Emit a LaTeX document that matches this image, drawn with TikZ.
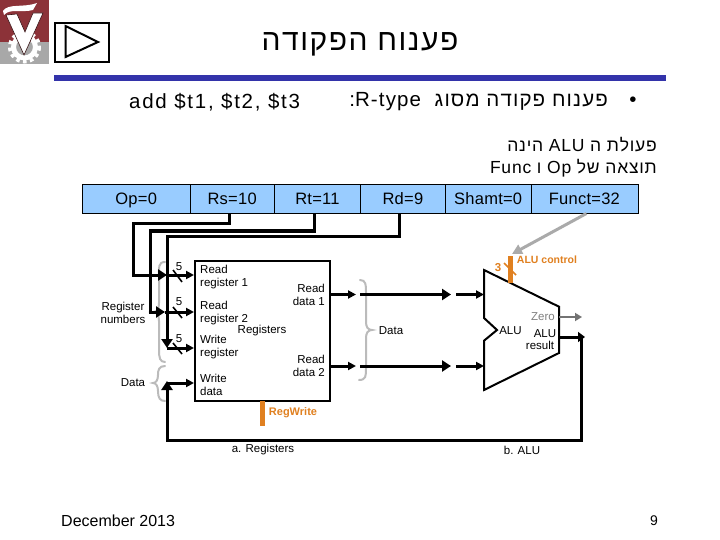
\documentclass[tikz,border=0pt]{standalone}
\usepackage{fontspec}
\setmainfont{Liberation Sans}
\usetikzlibrary{arrows.meta}
\TeXXeTstate=1
\definecolor{cellblue}{HTML}{99CCFF}
\definecolor{barblue}{HTML}{3333AA}
\definecolor{ctrl}{HTML}{E08020}
\definecolor{brc}{HTML}{BBBBBB}
\definecolor{arrowgray}{HTML}{AAAAAA}
\definecolor{logored}{HTML}{8C3238}
\definecolor{logogray}{HTML}{A8A8A8}
\newfontfamily\titlefont[LetterSpace=5]{Liberation Sans}
\newfontfamily\headfont[LetterSpace=8.5]{Liberation Sans}
\newfontfamily\hebfont[LetterSpace=5.5]{Liberation Sans}
\newfontfamily\subfont[LetterSpace=4.5]{Liberation Sans}
\newfontfamily\cellfont[LetterSpace=1.5]{Liberation Sans}
\tikzset{
  cell/.style={draw=black,fill=cellblue,line width=0.8pt,minimum height=28.5pt,inner sep=0pt,text height=12pt,text depth=0pt,font=\fontsize{16.5}{18}\selectfont\cellfont,anchor=south west},
  wire/.style={draw=black,line width=3pt,line join=miter},
  head/.style={-{Triangle[length=8pt,width=8pt]}},
  bighead/.style={-{Triangle[length=9pt,width=11pt]}},
  smalltx/.style={font=\fontsize{11.5}{13}\selectfont,inner sep=0pt,align=left},
  brace/.style={draw=brc,line width=2pt,line cap=round},
  slash/.style={draw=black,line width=1.6pt},
  ctl/.style={draw=ctrl,line width=5pt},
}
\begin{document}
\begin{tikzpicture}[x=1pt,y=-1pt]
\useasboundingbox (0,0) rectangle (720,540);
\fill[white] (0,0) rectangle (720,540);
% logo
\fill[logored] (0,0) rectangle (49,42);
\fill[logogray] (0,42) rectangle (49,64);
\draw[white,line width=4pt,dash pattern=on 3.5pt off 3.4pt] (24.5,47) circle (14.5);
\draw[white,line width=5pt] (24.5,47) circle (11);
\fill[white,draw=black!60!logored,line width=0.6pt] (6,15) -- (24,55) -- (43,13) -- (33,13) -- (25,32) -- (17,14) -- cycle;
\fill[white] (3,11) .. controls (8,3) and (24,8) .. (37,3) -- (33,10) .. controls (22,13) and (10,8) .. (4,15) -- cycle;
% button
\node[draw=black,line width=2pt,minimum width=54pt,minimum height=39pt,inner sep=0pt] (btn) at (81.5,42.5) {};
\draw[black,line width=2pt,line join=miter] (65.5,26) -- (98,42) -- (65.5,57) -- cycle;
% bar
\fill[barblue] (54,75) rectangle (666,81);
% title
\node[inner sep=0pt,font=\fontsize{30}{36}\selectfont\titlefont] (title) at (360,44) {\beginR פענוח הפקודה\endR};
\node[inner sep=0pt,font=\fontsize{20.5}{22}\selectfont\headfont,anchor=west] (add) at (129,102) {add \$t1, \$t2, \$t3};
\node[inner sep=0pt,font=\fontsize{20.5}{22}\selectfont\hebfont,anchor=east] (rtype) at (608,102) {\beginR פענוח פקודה מסוג\ \ \beginL R-type\endL:\endR};
\node[inner sep=0pt,font=\fontsize{20.5}{22}\selectfont] (bullet) at (633,102) {•};
\node[inner sep=0pt,font=\fontsize{17.5}{18}\selectfont\subfont,anchor=east] (l1) at (657,145) {\beginR פעולת ה \beginL ALU\endL{} הינה\endR};
\node[inner sep=0pt,font=\fontsize{17.5}{18}\selectfont\subfont,anchor=east] (l2) at (657,168) {\beginR תוצאה של \beginL Op\endL{} ו \beginL Func\endL\endR};
% table
\node[cell,minimum width=107.5pt] (op) at (82,213.5) {Op=0};
\node[cell,minimum width=84.5pt] (rs) at (189.5,213.5) {Rs=10};
\node[cell,minimum width=86pt] (rt) at (274,213.5) {Rt=11};
\node[cell,minimum width=85pt] (rd) at (360,213.5) {Rd=9};
\node[cell,minimum width=85.5pt] (shamt) at (445,213.5) {Shamt=0};
\node[cell,minimum width=107pt] (funct) at (530.5,213.5) {Funct=32};
% braces
\draw[brace] (165,262) .. controls (158,262) and (159,268) .. (159,275) -- (159,303) .. controls (159,309) and (157,312) .. (153,312) .. controls (157,312) and (159,315) .. (159,321) -- (159,350) .. controls (159,358) and (160,362) .. (165,362);
\draw[brace] (165,366) .. controls (159,366) and (158,370) .. (158,375) .. controls (158,380) and (156,383) .. (153,383) .. controls (156,383) and (158,386) .. (158,391) .. controls (158,398) and (160,401) .. (165,401);
\draw[brace] (360,280) .. controls (366,280) and (366,285) .. (366,292) -- (366,322) .. controls (366,327) and (368,330) .. (372,330) .. controls (368,330) and (366,333) .. (366,338) -- (366,368) .. controls (366,376) and (366,380) .. (359,380);
% register block
\node[draw=black,line width=2pt,fill=white,minimum width=135pt,minimum height=140pt,inner sep=0pt,anchor=north west] (regs) at (194,260) {};
% ALU
\draw[black,line width=2pt,fill=white,line join=miter] (484,270) -- (559,306.7) -- (559,353) -- (484,390) -- (484,340.7) -- (497,330) -- (484,318) -- cycle;
\coordinate (alutop) at (510.5,283);
\coordinate (alua) at (484,294.5);
\coordinate (alub) at (484,366);
\coordinate (aluz) at (559,317);
\coordinate (alur) at (559,337);
% bus wires
\coordinate (j1) at (167,275);
\coordinate (j2) at (165,312);
\coordinate (j3) at (167,348);
\draw[wire,bighead] ([xshift=-2.5pt]rs.south) |- (133,224) |- (j1);
\draw[wire,bighead] ([xshift=-3pt]rt.south) |- (150,231) |- (j2);
\draw[wire,bighead] ([xshift=-3pt]rd.south) |- (167,236) -- (j3);
\draw[wire,head] (j1) -- (regs.west |- j1);
\draw[wire,head] (j2) -- (regs.west |- j2);
\draw[wire,head] (j3) -- (regs.west |- j3);
% slashes
\draw[slash] (173,270) -- (182,282);
\draw[slash] (173,307) -- (182,318);
\draw[slash] (173,343) -- (182,354);
\node[smalltx] (n1) at (179,267) {5};
\node[smalltx] (n2) at (179,302) {5};
\node[smalltx] (n3) at (179,339) {5};
% feedback
\coordinate (wd) at (167,383);
\draw[wire] (581,337) -- (581,440) -- (167,440);
\draw[wire,-{Triangle[length=7pt,width=10pt]}] (alur) -- (585,337);
\draw[wire,bighead] (167,441.5) -- (167,381);
\draw[wire,head] (wd) -- (regs.west |- wd);
% read data
\coordinate (r1a) at (regs.east |- alua);
\coordinate (r2a) at (regs.east |- alub);
\draw[wire,head] (r1a) -- (356,294.5);
\draw[wire,head] (r2a) -- (356,366);
\draw[wire,bighead] (360,294.5) -- (451,294.5);
\draw[wire,bighead] (360,366) -- (451,366);
\draw[wire,head] (456,294.5) -- (alua);
\draw[wire,head] (456,366) -- (alub);
% zero
\draw[draw=black!55,line width=2pt,-{Triangle[length=7pt,width=8pt]}] (aluz) -- (582,317);
% control
\draw[ctl] (alutop) -- (510.5,256);
\draw[draw=ctrl,line width=1.6pt] (504,263) -- (516,275);
\draw[ctl] (262,401) -- (262,426);
\draw[draw=arrowgray,line width=3pt,-{Triangle[length=10pt,width=10pt]}] ([xshift=2pt]funct.south) -- (512,254);
% labels
\node[smalltx] (rr1) [anchor=west] at (200,277.5) {Read\\register 1};
\node[smalltx] (rr2) [anchor=west] at (200,313.5) {Read\\register 2};
\node[smalltx] (wr) [anchor=west] at (200,347.5) {Write\\register};
\node[smalltx] (wdt) [anchor=west] at (200,384.5) {Write\\data};
\node[smalltx,align=right] (rd1) [anchor=east] at (325,294.5) {Read\\data 1};
\node[smalltx,align=right] (rd2) [anchor=east] at (325,366) {Read\\data 2};
\node[smalltx] (rg) at (262,331) {Registers};
\node[smalltx,align=center] (regn) at (123,312.5) {Register\\numbers};
\node[smalltx] (dl) at (133,383) {Data};
\node[smalltx] (dr) at (391,331) {Data};
\node[smalltx] (alul) at (510.5,331) {ALU};
\node[smalltx,text=black!50] (zr) at (543,317) {Zero};
\node[smalltx] (alur1) at (545,334) {ALU};
\node[smalltx] (alur2) at (540,345) {result};
\node[inner sep=0pt,font=\fontsize{11.5}{13}\selectfont\bfseries,text=ctrl] (three) at (498,268) {3};
\node[inner sep=0pt,font=\fontsize{10.5}{12}\selectfont\bfseries,text=ctrl] (alc) at (547,260) {ALU control};
\node[inner sep=0pt,font=\fontsize{11}{12}\selectfont\bfseries,text=ctrl] (rw) at (293,413) {RegWrite};
\node[smalltx] (capa) at (263,450) {a. Registers};
\node[smalltx] (capb) at (522,450) {b. ALU};
\node[inner sep=0pt,font=\fontsize{16}{18}\selectfont,anchor=west] (date) at (61,521) {December 2013};
\node[inner sep=0pt,font=\fontsize{14}{16}\selectfont] (pg) at (654,521) {9};
\end{tikzpicture}
\end{document}
